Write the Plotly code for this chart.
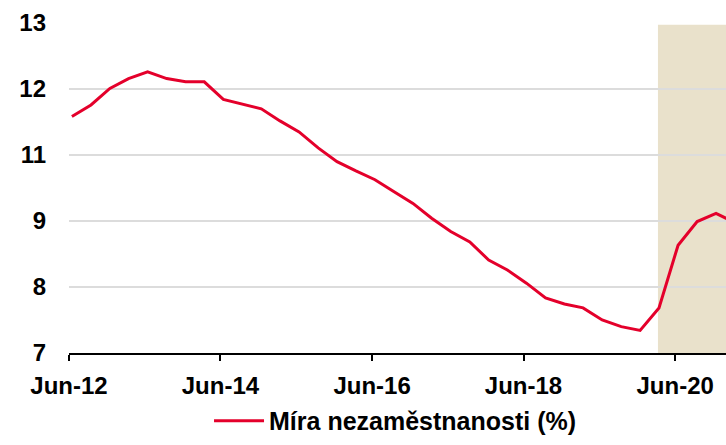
import plotly.graph_objects as go

dates = ["2012-06-15", "2012-09-15", "2012-12-15", "2013-03-15", "2013-06-15", "2013-09-15",
         "2013-12-15", "2014-03-15", "2014-06-15", "2014-09-15", "2014-12-15", "2015-03-15",
         "2015-06-15", "2015-09-15", "2015-12-15", "2016-03-15", "2016-06-15", "2016-09-15",
         "2016-12-15", "2017-03-15", "2017-06-15", "2017-09-15", "2017-12-15", "2018-03-15",
         "2018-06-15", "2018-09-15", "2018-12-15", "2019-03-15", "2019-06-15", "2019-09-15",
         "2019-12-15", "2020-03-15", "2020-06-15", "2020-09-15", "2020-12-15", "2021-03-15"]
unemployment = [11.30, 11.51, 11.81, 11.99, 12.11, 11.99,
                11.93, 11.93, 11.61, 11.53, 11.44, 11.22,
                11.02, 10.73, 10.48, 10.31, 10.15, 9.93,
                9.72, 9.45, 9.21, 9.02, 8.69, 8.51,
                8.27, 8.00, 7.89, 7.82, 7.60, 7.48,
                7.41, 7.82, 8.96, 9.39, 9.54, 9.37]

x_tick_vals = ["2012-06-01", "2014-06-01", "2016-06-01", "2018-06-01", "2020-06-01"]
x_tick_text = ["Jun-12", "Jun-14", "Jun-16", "Jun-18", "Jun-20"]

shade_start = "2020-03-10"
shade_end = "2021-06-01"

series_name = "Míra nezaměstnanosti (%)"

FONT = "Liberation Sans, Arial, sans-serif"

fig = go.Figure()
fig.add_trace(go.Scatter(
    x=dates, y=unemployment, mode="lines", name=series_name,
    line=dict(color="#E4002B", width=3),
))

fig.add_shape(type="rect", xref="x", yref="y", x0=shade_start, x1=shade_end,
              y0=7, y1=12.97, fillcolor="#E9E1CB", line=dict(width=0), layer="below")

fig.update_layout(
    width=726, height=445,
    margin=dict(l=69, r=0, t=23, b=92, autoexpand=False),
    paper_bgcolor="white", plot_bgcolor="white",
    font=dict(family=FONT, size=24, color="black", weight="bold"),
    showlegend=True,
    legend=dict(orientation="h", xanchor="center", x=0.497, yref="container",
                yanchor="middle", y=0.054, itemwidth=50,
                font=dict(size=25, weight="bold")),
    xaxis=dict(
        type="date", range=["2012-06-01", "2021-02-01"],
        tickvals=x_tick_vals, ticktext=x_tick_text,
        showgrid=False, showline=True, linecolor="black", linewidth=1.5,
        ticks="outside", ticklen=6, tickcolor="black", tickwidth=1.5,
        tickfont=dict(size=24, weight="bold"), ticklabelstandoff=4,
        zeroline=False, automargin=False,
    ),
    yaxis=dict(
        range=[7, 13], tickmode="linear", tick0=7, dtick=1.2, tickformat=".0f",
        showgrid=True, gridcolor="#DCDCDC", gridwidth=2,
        showline=False, ticks="", zeroline=False,
        tickfont=dict(size=24, weight="bold"), ticklabelstandoff=22,
        automargin=False,
    ),
)

fig.write_html(
    "out.html",
    config={"displayModeBar": False},
    post_script="document.body.style.margin='0px';document.body.style.overflow='hidden';",
)
